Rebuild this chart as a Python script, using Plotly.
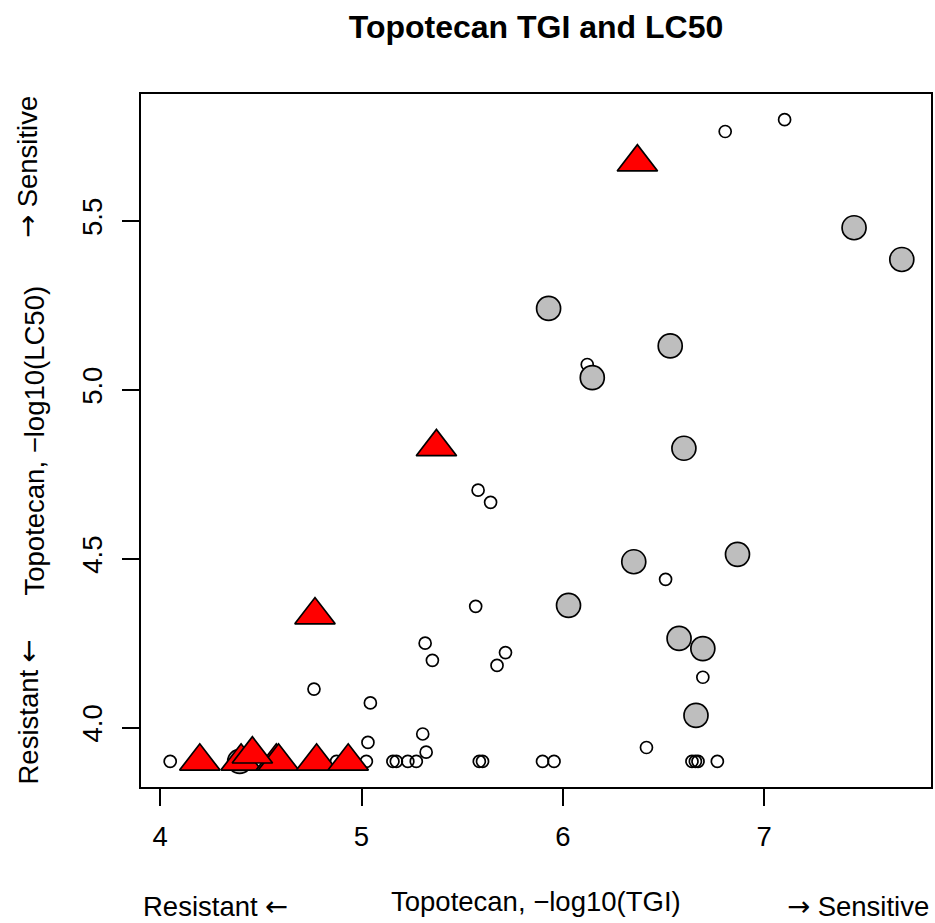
import plotly.graph_objects as go

# Small open circles: -log10(TGI), -log10(LC50)
open_x = [7.101, 6.806, 6.121, 5.579, 5.641, 6.510, 5.567, 5.316, 5.352, 5.715,
          5.673, 6.695, 4.764, 5.044, 5.032, 5.304, 5.321, 6.415,
          4.050, 4.876, 5.024, 5.156, 5.173, 5.230, 5.272, 5.585, 5.601,
          5.899, 5.956, 6.641, 6.658, 6.671, 6.767]
open_y = [5.800, 5.765, 5.075, 4.703, 4.667, 4.439, 4.359, 4.250, 4.199, 4.222,
          4.184, 4.149, 4.114, 4.073, 3.956, 3.981, 3.927, 3.941,
          3.9, 3.9, 3.9, 3.9, 3.9, 3.9, 3.9, 3.9, 3.9,
          3.9, 3.9, 3.9, 3.9, 3.9, 3.9]

# Large gray circles
gray_x = [7.446, 7.683, 5.929, 6.533, 6.146, 6.601, 6.352, 6.867, 6.028, 6.577,
          6.695, 6.661, 4.395]
gray_y = [5.480, 5.386, 5.241, 5.130, 5.036, 4.827, 4.491, 4.513, 4.362, 4.264,
          4.234, 4.036, 3.9]

# Red triangles
tri_x = [6.370, 5.372, 4.769, 4.197, 4.402, 4.577, 4.588, 4.777, 4.934, 4.458]
tri_y = [5.674, 4.831, 4.333, 3.9, 3.9, 3.9, 3.9, 3.9, 3.9, 3.921]

x_ticks = [4, 5, 6, 7]
x_ticktext = ["4", "5", "6", "7"]
y_ticks = [4.0, 4.5, 5.0, 5.5]
y_ticktext = ["4.0", "4.5", "5.0", "5.5"]

title_text = "Topotecan TGI and LC50"
x_label = "Topotecan, \u2212log10(TGI)"
y_label = "Topotecan, \u2212log10(LC50)"
ARROW_STYLE = "font-family:'DejaVu Sans'"
low_label = "Resistant <span style=\"" + ARROW_STYLE + "\">\u2190</span>"
high_label = "<span style=\"" + ARROW_STYLE + "\">\u2192</span> Sensitive"

FONT = "Liberation Sans, Arial, Helvetica, sans-serif"
LAB = 27.5
LW = 1.7

fig = go.Figure()
fig.add_trace(go.Scatter(
    x=open_x, y=open_y, mode="markers",
    marker=dict(symbol="circle-open", size=12, color="black",
                line=dict(width=LW, color="black")),
    hoverinfo="skip", showlegend=False))
fig.add_trace(go.Scatter(
    x=gray_x, y=gray_y, mode="markers",
    marker=dict(symbol="circle", size=24, color="#BEBEBE",
                line=dict(width=LW, color="black")),
    hoverinfo="skip", showlegend=False))
fig.add_trace(go.Scatter(
    x=tri_x, y=tri_y, mode="markers",
    marker=dict(symbol="triangle-up", size=35, color="#FF0000",
                line=dict(width=LW, color="black")),
    hoverinfo="skip", showlegend=False))

axis_common = dict(showgrid=False, zeroline=False, showline=True, mirror=True,
                   linecolor="black", linewidth=LW, ticks="outside",
                   ticklen=17, tickwidth=LW, tickcolor="black",
                   tickfont=dict(family=FONT, size=LAB, color="black"))

fig.update_xaxes(range=[3.905, 7.828], tickvals=x_ticks, ticktext=x_ticktext,
                 ticklabelstandoff=7, **axis_common)
fig.update_yaxes(range=[3.824, 5.876], tickvals=y_ticks, ticktext=y_ticktext,
                 tickangle=-90, ticklabelstandoff=9, **axis_common)

annos = [
    dict(text=x_label, xref="paper", yref="paper", x=0.5, y=0,
         xanchor="center", yanchor="middle", yshift=-114, showarrow=False),
    dict(text=low_label, xref="paper", yref="paper", x=0, y=0,
         xanchor="left", yanchor="middle", yshift=-119, showarrow=False),
    dict(text=high_label, xref="paper", yref="paper", x=1, y=0,
         xanchor="right", yanchor="middle", yshift=-119, showarrow=False),
    dict(text=y_label, xref="paper", yref="paper", x=0, y=0.5, textangle=-90,
         xanchor="center", yanchor="middle", xshift=-107, showarrow=False),
    dict(text=low_label, xref="paper", yref="paper", x=0, y=0, textangle=-90,
         xanchor="center", yanchor="bottom", xshift=-114, showarrow=False),
    dict(text=high_label, xref="paper", yref="paper", x=0, y=1, textangle=-90,
         xanchor="center", yanchor="top", xshift=-114, showarrow=False),
]
for a in annos:
    a["font"] = dict(family=FONT, size=LAB, color="black")
    fig.add_annotation(**a)

fig.update_layout(
    width=935, height=923,
    margin=dict(l=141, r=2, t=94, b=136),
    paper_bgcolor="white", plot_bgcolor="white",
    title=dict(text="<b>" + title_text + "</b>", xref="paper", x=0.5,
               xanchor="center", yref="container", y=1 - 27 / 923,
               yanchor="middle",
               font=dict(family=FONT, size=32, color="black")),
)

fig.write_html("out.html")
